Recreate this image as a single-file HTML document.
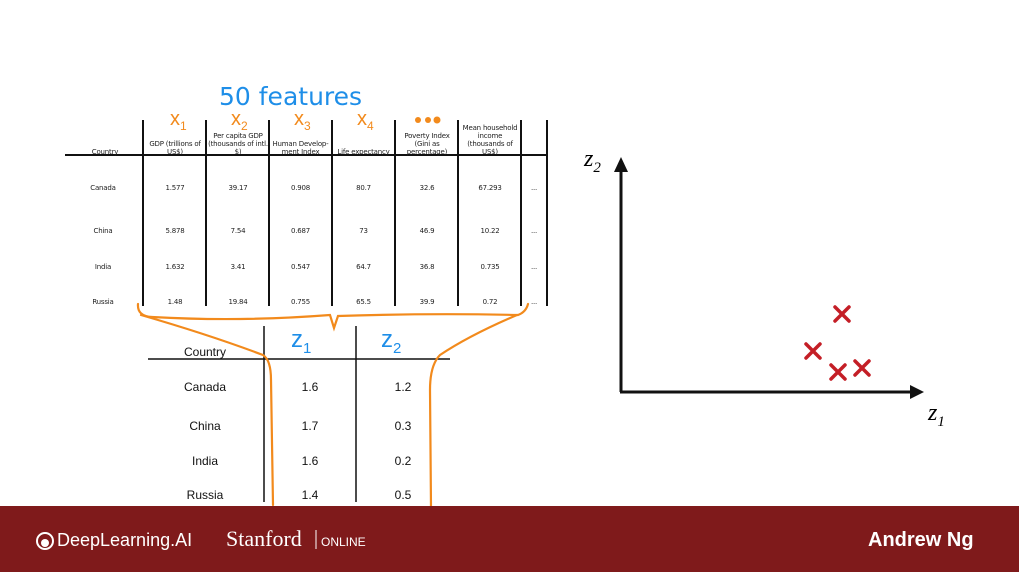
<!DOCTYPE html>
<html><head><style>
body{margin:0;width:1019px;height:572px;background:#fff;position:relative;overflow:hidden;font-family:"Liberation Sans",sans-serif}
.t{position:absolute;font-size:7px;text-align:center;color:#222;line-height:8px;font-family:"DejaVu Sans",sans-serif;letter-spacing:-0.2px}
.b{position:absolute;font-size:12px;color:#111;transform:translateX(-50%)}
</style></head><body>
<svg width="1019" height="572" style="position:absolute;left:0;top:0">
<g stroke="#111" stroke-width="2">
<line x1="65" y1="155" x2="547" y2="155"/>
<line x1="143" y1="120" x2="143" y2="306"/><line x1="206" y1="120" x2="206" y2="306"/>
<line x1="269" y1="120" x2="269" y2="306"/><line x1="332" y1="120" x2="332" y2="306"/>
<line x1="395" y1="120" x2="395" y2="306"/><line x1="458" y1="120" x2="458" y2="306"/>
<line x1="521" y1="120" x2="521" y2="306"/><line x1="547" y1="120" x2="547" y2="306"/>
<line x1="148" y1="359" x2="450" y2="359" stroke-width="1.5"/>
<line x1="264" y1="326" x2="264" y2="502" stroke-width="1.5"/>
<line x1="356" y1="326" x2="356" y2="502" stroke-width="1.5"/>
<line x1="621" y1="392" x2="621" y2="168" stroke-width="3"/>
<line x1="620" y1="392" x2="912" y2="392" stroke-width="3"/>
</g>
<polygon points="614,172 621,157 628,172" fill="#111"/>
<polygon points="910,385 924,392 910,399" fill="#111"/>
<g stroke="#c41e26" stroke-width="3.5" stroke-linecap="round">
<path d="M835 307 L849 321 M849 307 L835 321"/>
<path d="M806 344 L820 358 M820 344 L806 358"/>
<path d="M831 365 L845 379 M845 365 L831 379"/>
<path d="M855 361 L869 375 M869 361 L855 375"/>
</g>
<g fill="none" stroke="#f28a1c" stroke-width="2.2" stroke-linecap="round">
<path d="M138 304 Q137 316 152 317 Q240 322 330 315 L334 328 L338 316 Q430 313 518 315 Q526 312 528 304"/>
<path d="M141 315 Q210 335 263 355 Q271 360 271 380 L273 505"/>
<path d="M517 315 Q470 335 440 355 Q430 365 430 390 L431 508"/>
</g>
<g fill="#f28a1c"><circle cx="418" cy="120" r="3"/><circle cx="428" cy="120" r="3"/><circle cx="437" cy="120" r="3.5"/></g>
<rect x="0" y="506" width="1019" height="66" fill="#7f1a1b"/>
<circle cx="45" cy="541" r="8" fill="none" stroke="#fff" stroke-width="2"/><circle cx="45" cy="543" r="4" fill="#fff"/>
<line x1="316" y1="530" x2="316" y2="549" stroke="#fff" stroke-width="1"/>
</svg>
<div style="position:absolute;left:219px;top:82px;font-size:25px;color:#1e8ee8;font-family:'DejaVu Sans',sans-serif">50 features</div>
<div style="position:absolute;left:170px;top:108px;font-size:20px;color:#f28a1c">x<sub style="font-size:12px">1</sub></div>
<div style="position:absolute;left:231px;top:108px;font-size:20px;color:#f28a1c">x<sub style="font-size:12px">2</sub></div>
<div style="position:absolute;left:294px;top:108px;font-size:20px;color:#f28a1c">x<sub style="font-size:12px">3</sub></div>
<div style="position:absolute;left:357px;top:108px;font-size:20px;color:#f28a1c">x<sub style="font-size:12px">4</sub></div>
<div class="t" style="left:75px;top:148px;width:60px">Country</div>
<div class="t" style="left:144px;top:140px;width:62px">GDP (trillions of US$)</div>
<div class="t" style="left:207px;top:132px;width:62px">Per capita GDP (thousands of intl. $)</div>
<div class="t" style="left:269px;top:140px;width:63px">Human Develop-ment Index</div>
<div class="t" style="left:332px;top:148px;width:63px">Life expectancy</div>
<div class="t" style="left:400px;top:132px;width:54px">Poverty Index (Gini as percentage)</div>
<div class="t" style="left:459px;top:124px;width:62px">Mean household income (thousands of US$)</div>
<div class="t" style="left:75px;top:184px;width:56px">Canada</div><div class="t" style="left:75px;top:227px;width:56px">China</div><div class="t" style="left:75px;top:263px;width:56px">India</div><div class="t" style="left:75px;top:298px;width:56px">Russia</div>
<div class="t" style="left:144px;top:184px;width:62px">1.577</div><div class="t" style="left:207px;top:184px;width:62px">39.17</div><div class="t" style="left:269px;top:184px;width:63px">0.908</div><div class="t" style="left:332px;top:184px;width:63px">80.7</div><div class="t" style="left:396px;top:184px;width:62px">32.6</div><div class="t" style="left:459px;top:184px;width:62px">67.293</div><div class="t" style="left:521px;top:184px;width:26px">...</div>
<div class="t" style="left:144px;top:227px;width:62px">5.878</div><div class="t" style="left:207px;top:227px;width:62px">7.54</div><div class="t" style="left:269px;top:227px;width:63px">0.687</div><div class="t" style="left:332px;top:227px;width:63px">73</div><div class="t" style="left:396px;top:227px;width:62px">46.9</div><div class="t" style="left:459px;top:227px;width:62px">10.22</div><div class="t" style="left:521px;top:227px;width:26px">...</div>
<div class="t" style="left:144px;top:263px;width:62px">1.632</div><div class="t" style="left:207px;top:263px;width:62px">3.41</div><div class="t" style="left:269px;top:263px;width:63px">0.547</div><div class="t" style="left:332px;top:263px;width:63px">64.7</div><div class="t" style="left:396px;top:263px;width:62px">36.8</div><div class="t" style="left:459px;top:263px;width:62px">0.735</div><div class="t" style="left:521px;top:263px;width:26px">...</div>
<div class="t" style="left:144px;top:298px;width:62px">1.48</div><div class="t" style="left:207px;top:298px;width:62px">19.84</div><div class="t" style="left:269px;top:298px;width:63px">0.755</div><div class="t" style="left:332px;top:298px;width:63px">65.5</div><div class="t" style="left:396px;top:298px;width:62px">39.9</div><div class="t" style="left:459px;top:298px;width:62px">0.72</div><div class="t" style="left:521px;top:298px;width:26px">...</div>
<div class="b" style="left:205px;top:345px">Country</div>
<div style="position:absolute;left:291px;top:326px;font-size:24px;color:#1e8ee8">z<sub style="font-size:15px">1</sub></div>
<div style="position:absolute;left:381px;top:326px;font-size:24px;color:#1e8ee8">z<sub style="font-size:15px">2</sub></div>
<div class="b" style="left:205px;top:380px">Canada</div><div class="b" style="left:310px;top:380px">1.6</div><div class="b" style="left:403px;top:380px">1.2</div>
<div class="b" style="left:205px;top:419px">China</div><div class="b" style="left:310px;top:419px">1.7</div><div class="b" style="left:403px;top:419px">0.3</div>
<div class="b" style="left:205px;top:454px">India</div><div class="b" style="left:310px;top:454px">1.6</div><div class="b" style="left:403px;top:454px">0.2</div>
<div class="b" style="left:205px;top:488px">Russia</div><div class="b" style="left:310px;top:488px">1.4</div><div class="b" style="left:403px;top:488px">0.5</div>
<div style="position:absolute;left:584px;top:146px;font-size:24px;font-style:italic;font-family:'Liberation Serif',serif">z<sub style="font-size:15px">2</sub></div>
<div style="position:absolute;left:928px;top:400px;font-size:24px;font-style:italic;font-family:'Liberation Serif',serif">z<sub style="font-size:15px">1</sub></div>
<div style="position:absolute;left:57px;top:530px;font-size:18px;color:#fff">DeepLearning.AI</div>
<div style="position:absolute;left:226px;top:526px;font-size:22px;color:#fff;font-family:'Liberation Serif',serif">Stanford</div>
<div style="position:absolute;left:321px;top:535px;font-size:12px;color:#fff">ONLINE</div>
<div style="position:absolute;left:868px;top:529px;font-size:20px;color:#fff;font-weight:bold">Andrew Ng</div>
</body></html>
